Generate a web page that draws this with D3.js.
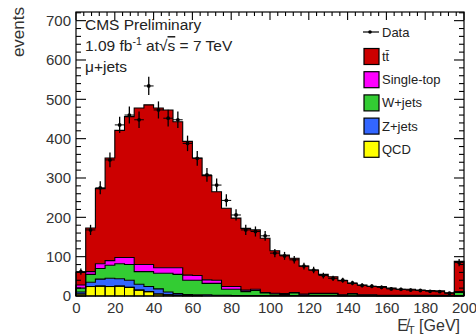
<!DOCTYPE html>
<html><head><meta charset="utf-8">
<script src="https://cdn.jsdelivr.net/npm/d3@7"></script>
<style>
body{margin:0;background:#fff}
svg{display:block}
text{font-family:"Liberation Sans",Arial,Helvetica,sans-serif;fill:#222}
</style>
</head><body>
<svg id="c" width="476" height="336"></svg>
<script>
// ---- data (MET in 5 GeV bins, last bin = overflow) ----
const binLow = d3.range(0, 200, 5);
const binWidth = 5;
const ttbar     = [32,111,191,261,323,358,398,406,406,401,371,340,299,265,225,199,174,157,151,138,108,98,87,71,59,48,42,36,26,25,21,22,18,15,15,13,12,11,6,77];
const singleTop = [8,7,12,12,16,18,18,18,14,14,17,13,12,9,8,7,7,4,3,1,2,2,1,2,1,1,1,1,1,1,1,1,1,1,1,1,1,1,1,2];
const wjets     = [10,20,27,33,38,40,32,38,40,48,49,36,37,29,30,15,16,10,13,7,4,3,7,2,5,5,5,2,5,2,2,1,1,1,1,1,1,1,1,8];
const zjets     = [5,11,18,21,19,18,15,13,13,7,4,3,2,3,2,2,1,1,1,1,1,1,1,1,1,1,1,0,0,0,0,0,0,0,0,0,0,0,0,1];
const qcd       = [5,24,25,24,25,22,15,11,5,3,2,1,1,0,0,0,0,0,0,0,0,0,0,0,0,0,0,0,0,0,0,0,0,0,0,0,0,0,0,0];
const dataCounts= [62,168,275,346,435,460,448,534,473,452,448,388,350,308,282,243,206,168,164,153,109,102,92,76,66,52,45,40,33,27,25,22,18,17,15,14,12,11,7,85];
const xTicks = [0,20,40,60,80,100,120,140,160,180,200];
const yTicks = [0,100,200,300,400,500,600,700];
const seriesKeys   = ["qcd","zjets","wjets","singleTop","ttbar"];
const seriesColors = {qcd:"#ffff00", zjets:"#3366ff", wjets:"#33cc33", singleTop:"#ff00ff", ttbar:"#cc0000"};
const legendKeys   = ["ttbar","singleTop","wjets","zjets","qcd"];
const legendLabels = {ttbar:"tt\u0304", singleTop:"Single-top", wjets:"W+jets", zjets:"Z+jets", qcd:"QCD"};

// ---- layout ----
const svg = d3.select("#c");
const L = 76, R = 464, T = 12, B = 296;
const x = d3.scaleLinear().domain([0, 200]).range([L, R]);
const y = d3.scaleLinear().domain([0, 722]).range([B, T]);

const rows = binLow.map((lo, i) => ({lo, qcd: qcd[i], zjets: zjets[i], wjets: wjets[i], singleTop: singleTop[i], ttbar: ttbar[i]}));
const stacked = d3.stack().keys(seriesKeys)(rows);

const area = d3.area().x(p => x(p.x)).y0(p => y(p.y0)).y1(p => y(p.y1));
const line = d3.line().x(p => x(p.x)).y(p => y(p.y));

const g = svg.append("g");
stacked.forEach(s => {
  const pts = s.flatMap(d => [{x: d.data.lo, y0: d[0], y1: d[1]}, {x: d.data.lo + binWidth, y0: d[0], y1: d[1]}]);
  g.append("path").attr("d", area(pts)).attr("fill", seriesColors[s.key]).attr("stroke", "none");
});
stacked.forEach(s => {
  const pts = [{x: 0, y: 0}].concat(s.flatMap(d => [{x: d.data.lo, y: d[1]}, {x: d.data.lo + binWidth, y: d[1]}]), [{x: 200, y: 0}]);
  g.append("path").attr("d", line(pts)).attr("fill", "none").attr("stroke", "#000").attr("stroke-width", 1.1);
});
// QCD bars show bin edges
g.selectAll("rect.qcd").data(stacked[0].filter(d => d[1] > 0)).join("rect")
  .attr("x", d => x(d.data.lo)).attr("width", x(binWidth) - x(0))
  .attr("y", d => y(d[1])).attr("height", d => y(d[0]) - y(d[1]))
  .attr("fill", "none").attr("stroke", "#000").attr("stroke-width", 1);

// ---- data points ----
const dg = svg.append("g");
binLow.forEach((lo, i) => {
  const n = dataCounts[i];
  if (n <= 0) return;
  const cx = x(lo + binWidth / 2), e = Math.sqrt(n);
  dg.append("line").attr("x1", cx).attr("x2", cx).attr("y1", y(n - e)).attr("y2", y(n + e)).attr("stroke", "#000").attr("stroke-width", 1.3);
  dg.append("line").attr("x1", x(lo)).attr("x2", x(lo + binWidth)).attr("y1", y(n)).attr("y2", y(n)).attr("stroke", "#000").attr("stroke-width", 1);
  dg.append("circle").attr("cx", cx).attr("cy", y(n)).attr("r", 1.9).attr("fill", "#000");
});

// ---- frame and ticks ----
svg.append("rect").attr("x", L).attr("y", T).attr("width", R - L).attr("height", B - T)
  .attr("fill", "none").attr("stroke", "#000").attr("stroke-width", 1.2);
const tg = svg.append("g").attr("stroke", "#000").attr("stroke-width", 1.1);
d3.range(0, 721, 20).forEach(v => {
  const len = v % 100 === 0 ? 10 : 5;
  tg.append("line").attr("x1", L).attr("x2", L + len).attr("y1", y(v)).attr("y2", y(v));
  tg.append("line").attr("x1", R).attr("x2", R - len).attr("y1", y(v)).attr("y2", y(v));
});
d3.range(0, 201, 4).forEach(v => {
  const len = v % 20 === 0 ? 8 : 4;
  tg.append("line").attr("x1", x(v)).attr("x2", x(v)).attr("y1", T).attr("y2", T + len);
});

// axes labels via d3 axis
const ay = svg.append("g").attr("transform", `translate(${L},0)`)
  .call(d3.axisLeft(y).tickValues(yTicks).tickSize(0).tickPadding(5));
const ax = svg.append("g").attr("transform", `translate(0,${B})`)
  .call(d3.axisBottom(x).tickValues(xTicks).tickSize(0).tickPadding(6));
[ay, ax].forEach(a => { a.select(".domain").remove(); a.selectAll("text").attr("font-size", 15).attr("font-family", null).style("fill", "#333"); });

// axis titles
svg.append("text").attr("transform", "translate(24,7) rotate(-90)").attr("text-anchor", "end")
  .attr("font-size", 17).style("fill", "#333").text("events");
const xt = svg.append("text").attr("x", 460).attr("y", 331).attr("text-anchor", "end").attr("font-size", 16).style("fill", "#333");
xt.append("tspan").text("E\u0338");
xt.append("tspan").attr("font-size", 11).attr("dy", 3).text("T");
xt.append("tspan").attr("dy", -3).text(" [GeV]");

// header texts
svg.append("text").attr("x", 85).attr("y", 30).attr("font-size", 15.5).text("CMS Preliminary");
const t2 = svg.append("text").attr("x", 85).attr("y", 51).attr("font-size", 15.5);
t2.append("tspan").text("1.09 fb");
t2.append("tspan").attr("font-size", 10.5).attr("dy", -6).text("-1");
t2.append("tspan").attr("dy", 6).text(" at\u221A");
t2.append("tspan").style("text-decoration", "overline").text("s");
t2.append("tspan").text(" = 7 TeV");
svg.append("text").attr("x", 85).attr("y", 72).attr("font-size", 15.5).text("\u03BC+jets");

// legend
const lg = svg.append("g");
lg.append("line").attr("x1", 363).attr("x2", 379).attr("y1", 32).attr("y2", 32).attr("stroke", "#000").attr("stroke-width", 1.2);
lg.append("circle").attr("cx", 370).attr("cy", 32).attr("r", 1.8).attr("fill", "#000");
lg.append("text").attr("x", 382).attr("y", 36.5).attr("font-size", 13).text("Data");
legendKeys.forEach((k, i) => {
  const cy = 56.5 + i * 23.2;
  lg.append("rect").attr("x", 364).attr("y", cy - 8).attr("width", 15).attr("height", 16)
    .attr("fill", seriesColors[k]).attr("stroke", "#000").attr("stroke-width", 1.2);
  lg.append("text").attr("x", 382).attr("y", cy + 4.5).attr("font-size", 13).text(legendLabels[k]);
});
</script>
</body></html>
